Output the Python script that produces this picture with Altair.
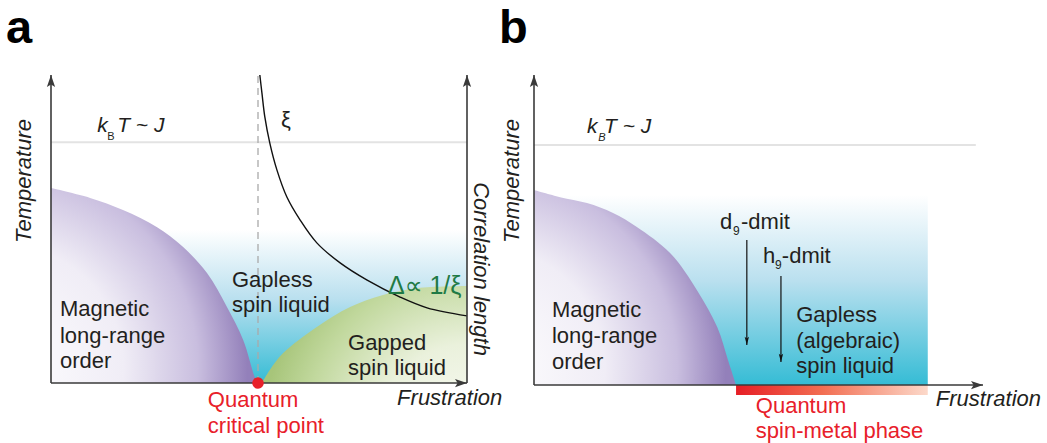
import altair as alt
import pandas as pd

# ---------------- data (schematic values) ----------------
# Panel a : frustration (0..1) vs temperature (0..1)
A_MAG_F = [0.0, 0.094, 0.173, 0.255, 0.317, 0.375, 0.423, 0.462, 0.490, 0.4976]
A_MAG_T = [0.633, 0.601, 0.562, 0.506, 0.442, 0.357, 0.247, 0.140, 0.019, 0.0]
A_GAP_F = [0.507, 0.526, 0.558, 0.639, 0.719, 0.798, 0.880, 1.0]
A_GAP_T = [0.0, 0.042, 0.097, 0.182, 0.247, 0.286, 0.308, 0.315]
A_XI_F = [0.502, 0.507, 0.514, 0.526, 0.543, 0.567, 0.599, 0.639, 0.695, 0.760, 0.839, 0.904, 1.0]
A_XI_T = [1.0, 0.942, 0.864, 0.779, 0.692, 0.604, 0.529, 0.455, 0.390, 0.334, 0.279, 0.244, 0.218]
A_QCP = 0.4976          # quantum critical point (frustration)
A_KT = 0.782            # k_B T ~ J level
A_BLUE_TOP = 0.497      # top of the spin-liquid crossover shading

# Panel b
B_MAG_F = [0.0, 0.058, 0.118, 0.176, 0.229, 0.303, 0.363, 0.408, 0.432, 0.450]
B_MAG_T = [0.629, 0.606, 0.587, 0.555, 0.510, 0.426, 0.306, 0.187, 0.081, 0.0]
B_KT = 0.774
B_KT_END = 0.984
B_SM_START = 0.450      # spin-metal phase start
B_SM_END = 0.877        # spin-metal phase end
B_SM_DEPTH = -0.032
B_BLUE_TOP = 0.613
B_ARROW_F = [0.474, 0.550]
B_ARROW_FROM = [0.468, 0.352]
B_ARROW_TO = [0.129, 0.074]

# text labels and their anchors (frustration, temperature)
A_MAIN_TXT = ["Magnetic", "long-range", "order", "Gapless", "spin liquid", "Gapped", "spin liquid"]
A_MAIN_F = [0.0216, 0.0216, 0.0216, 0.435, 0.435, 0.714, 0.714]
A_MAIN_T = [0.2175, 0.1299, 0.0487, 0.312, 0.231, 0.107, 0.026]
A_RED_TXT = ["Quantum", "critical point"]
A_RED_F = [0.377, 0.377]
A_RED_T = [-0.078, -0.162]

B_MAIN_TXT = ["Magnetic", "long-range", "order", "Gapless", "(algebraic)", "spin liquid",
              "d", "-dmit", "h", "-dmit"]
B_MAIN_F = [0.040, 0.040, 0.040, 0.584, 0.584, 0.584, 0.414, 0.461, 0.510, 0.552]
B_MAIN_T = [0.219, 0.135, 0.052, 0.203, 0.119, 0.039, 0.503, 0.503, 0.394, 0.394]
B_SUB_TXT = ["9", "9"]
B_SUB_F = [0.443, 0.537]
B_SUB_T = [0.484, 0.374]
B_RED_TXT = ["Quantum", "spin-metal phase"]
B_RED_F = [0.494, 0.494]
B_RED_T = [-0.090, -0.170]

# ---------------- layout / style ----------------
RANGES = {"a": ([51, 467], [383, 75]), "b": ([534, 983], [385, 75])}
FONT = "Liberation Sans"
INK = "#231f20"
AXIS = "#3a3a3a"
RED = "#e8202a"
CURVE = "catmull-rom"

UP = "M0,0L0.55,1.6L0,1.25L-0.55,1.6Z"
RIGHT = "M0,0L-1.6,-0.55L-1.25,0L-1.6,0.55Z"
DOWN = "M0,0L-0.38,-1.45L0,-1.15L0.38,-1.45Z"


def sx(p):
    return alt.Scale(domain=[0, 1], range=RANGES[p][0], nice=False, zero=False)


def sy(p):
    return alt.Scale(domain=[0, 1], range=RANGES[p][1], nice=False, zero=False)


def X(p, f="f"):
    return alt.X(f"{f}:Q", scale=sx(p), axis=None)


def Y(p, f="t"):
    return alt.Y(f"{f}:Q", scale=sy(p), axis=None)


def lin(stops, x1=0, y1=0, x2=0, y2=1):
    return alt.LinearGradient(gradient="linear", x1=x1, y1=y1, x2=x2, y2=y2,
                              stops=[alt.GradientStop(color=c, offset=o) for o, c in stops])


def rad(stops, cx, cy, r):
    return alt.RadialGradient(gradient="radial", x1=cx, y1=cy, r1=0, x2=cx, y2=cy, r2=r,
                              stops=[alt.GradientStop(color=c, offset=o) for o, c in stops])


BLUE = lin([(0, "#ffffff"), (0.45, "#bae0ef"), (1, "#35bcd5")])
PURPLE = rad([(0, "#ffffff"), (0.5, "#f0edf6"), (0.8, "#c9bedf"), (1, "#9380ba")], -0.25, 0.9, 1.2)
GREEN = rad([(0, "#fbfcf7"), (0.45, "#eaf1dc"), (0.8, "#c1d89d"), (1, "#a7c57a")], 1.0, 1.0, 1.0)
REDBAR = lin([(0, "#e61e25"), (0.45, "#f26e52"), (1, "#fcd9ca")], x1=0, y1=0, x2=1, y2=0)


def area(p, F, T, fill):
    df = pd.DataFrame({"f": F, "t": T})
    return alt.Chart(df).mark_area(interpolate=CURVE, fill=fill, strokeWidth=0).encode(
        x=X(p), y=Y(p))


def rect(p, f, f2, t, t2, fill):
    df = pd.DataFrame({"f": [f], "f2": [f2], "t": [t], "t2": [t2]})
    return alt.Chart(df).mark_rect(fill=fill, strokeWidth=0).encode(
        x=X(p), x2="f2:Q", y=Y(p), y2="t2:Q")


def segs(p, f, f2, t, t2, **kw):
    df = pd.DataFrame({"f": f, "f2": f2, "t": t, "t2": t2})
    return alt.Chart(df).mark_rule(**kw).encode(x=X(p), x2="f2:Q", y=Y(p), y2="t2:Q")


def heads(p, f, t, shape, size, color=AXIS):
    df = pd.DataFrame({"f": f, "t": t})
    return alt.Chart(df).mark_point(shape=shape, size=size, filled=True, color=color,
                                    opacity=1, strokeWidth=0).encode(x=X(p), y=Y(p))


def text(p, labels, F, T, **kw):
    df = pd.DataFrame({"f": F, "t": T, "label": labels})
    style = dict(font=FONT, fontSize=22, color=INK, align="left", baseline="alphabetic")
    style.update(kw)
    return alt.Chart(df).mark_text(**style).encode(x=X(p), y=Y(p), text="label:N")


# ---------------- panel a ----------------
layers = [
    rect("a", 0, 1, 0, A_BLUE_TOP, BLUE),
    area("a", A_MAG_F, A_MAG_T, PURPLE),
    area("a", A_GAP_F, A_GAP_T, GREEN),
    segs("a", [0], [1], [A_KT], [A_KT], color="#e3e3e3", strokeWidth=2),
    segs("a", [A_QCP], [A_QCP], [0], [1], color="#a9a9a9", strokeWidth=1.3, strokeDash=[7, 5]),
    alt.Chart(pd.DataFrame({"f": A_XI_F, "t": A_XI_T})).mark_line(
        interpolate=CURVE, color="#111111", strokeWidth=1.4).encode(x=X("a"), y=Y("a")),
    segs("a", [0, 0, 1], [0, 1, 1], [0, 0, 0], [1, 0, 1], color=AXIS, strokeWidth=1.6),
    heads("a", [0, 1], [1, 1], UP, 225),
    heads("a", [1], [0], RIGHT, 225),
    heads("a", [A_QCP], [0], "circle", 135, RED),
    text("a", ["a"], [-0.108], [1.104], fontSize=47, fontWeight="bold", color="#000000"),
    text("a", ["k"], [0.111], [0.815], fontSize=21, fontStyle="italic"),
    text("a", ["B"], [0.135], [0.789], fontSize=11),
    text("a", ["T ~ J"], [0.159], [0.815], fontSize=21, fontStyle="italic"),
    text("a", ["ξ"], [0.565], [0.831], fontSize=22, align="center"),
    text("a", ["Temperature"], [-0.048], [0.656], angle=270, align="center", fontStyle="italic"),
    text("a", ["Correlation length"], [1.017], [0.370], angle=90, align="center", fontStyle="italic"),
    text("a", A_MAIN_TXT, A_MAIN_F, A_MAIN_T),
    text("a", ["Δ∝ 1/ξ"], [0.810], [0.289], fontSize=25, color="#1f7a45",
         font="Liberation Sans, DejaVu Sans"),
    text("a", ["Frustration"], [0.832], [-0.071], fontStyle="italic"),
    text("a", A_RED_TXT, A_RED_F, A_RED_T, color=RED),
]

# ---------------- panel b ----------------
layers += [
    rect("b", 0, B_SM_END, 0, B_BLUE_TOP, BLUE),
    area("b", B_MAG_F, B_MAG_T, PURPLE),
    rect("b", B_SM_START, B_SM_END, B_SM_DEPTH, 0, REDBAR),
    segs("b", [0], [B_KT_END], [B_KT], [B_KT], color="#e3e3e3", strokeWidth=2),
    segs("b", [0, 0], [0, 1], [0, 0], [1, 0], color=AXIS, strokeWidth=1.6),
    heads("b", [0], [1], UP, 225),
    heads("b", [1], [0], RIGHT, 225),
    segs("b", B_ARROW_F, B_ARROW_F, B_ARROW_FROM, B_ARROW_TO, color="#111111", strokeWidth=1.2),
    heads("b", B_ARROW_F, B_ARROW_TO, DOWN, 130, "#111111"),
    text("b", ["b"], [-0.078], [1.103], fontSize=47, fontWeight="bold", color="#000000"),
    text("b", ["k"], [0.118], [0.813], fontSize=21, fontStyle="italic"),
    text("b", ["B"], [0.143], [0.787], fontSize=11, fontStyle="italic"),
    text("b", ["T ~ J"], [0.156], [0.813], fontSize=21, fontStyle="italic"),
    text("b", ["Temperature"], [-0.033], [0.658], angle=270, align="center", fontStyle="italic"),
    text("b", B_MAIN_TXT, B_MAIN_F, B_MAIN_T),
    text("b", B_SUB_TXT, B_SUB_F, B_SUB_T, fontSize=12),
    text("b", ["Frustration"], [0.895], [-0.068], fontStyle="italic"),
    text("b", B_RED_TXT, B_RED_F, B_RED_T, color=RED),
]

chart = alt.layer(*layers).resolve_scale(x="independent", y="independent").properties(
    width=1047, height=443, padding=0,
    autosize=alt.AutoSizeParams(type="none"),
    background="#ffffff",
).configure_view(strokeWidth=0)

chart.save("out.html", embed_options={"renderer": "svg", "actions": False})
